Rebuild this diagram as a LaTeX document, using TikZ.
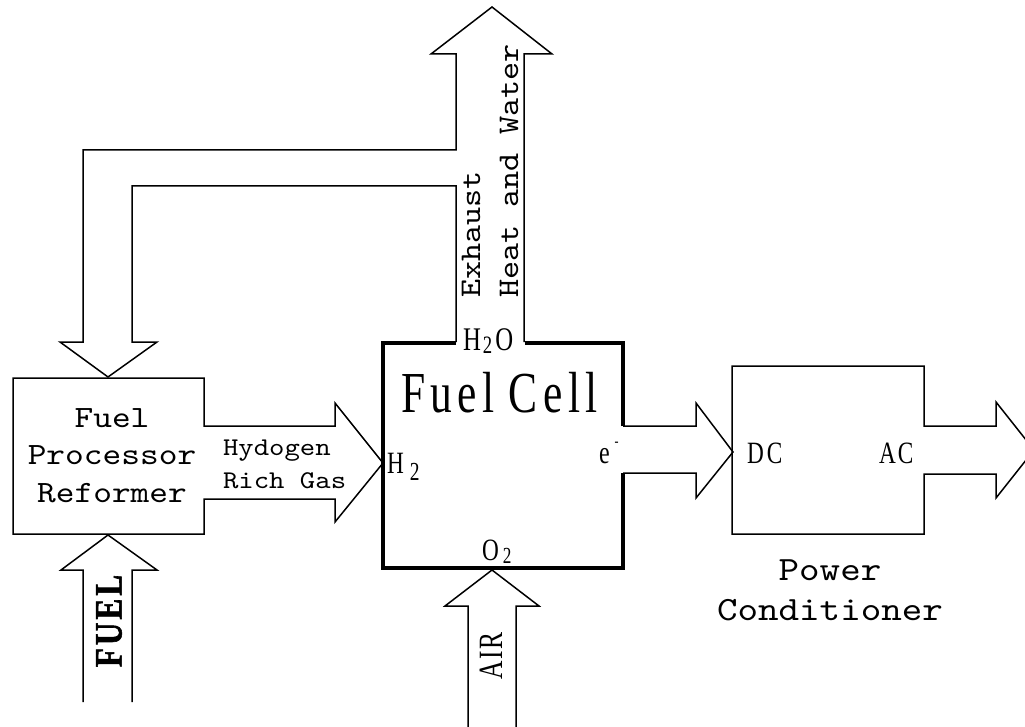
\documentclass[tikz,border=0pt]{standalone}
\usepackage{fontspec}
\setmainfont{Liberation Serif}
\newfontfamily\cser[FakeStretch=0.75]{Liberation Serif}
\newfontfamily\cserb[FakeStretch=0.8,FakeBold=1.5]{Liberation Serif Bold}
\newfontfamily\mono[FakeStretch=1.15]{lmmono10-regular.otf}
\begin{document}
\begin{tikzpicture}[x=1pt,y=-1pt,
  blockarrow/.style={draw=black, line width=1.5pt, line join=miter},
  cellwall/.style={draw=black, line width=3.2pt},
  lbl/.style={inner sep=0pt, outer sep=0pt},
  monolbl/.style={lbl, font=\mono\fontsize{#1}{#1}\selectfont},
  serlbl/.style={lbl, font=\cser\fontsize{#1}{#1}\selectfont}]
\useasboundingbox (0,0) rectangle (1025,727);
\clip (0,0) rectangle (1025,727);
% exhaust arrow with feedback branch
\draw[blockarrow] (524,342) -- (524,54) -- (552,54) -- (492,7) -- (431,54) -- (456,54)
  -- (456,150) -- (83,150) -- (83,342) -- (60,342) -- (108,377) -- (157,342) -- (132,342)
  -- (132,186) -- (456,186) -- (456,342);
% fuel cell walls
\draw[cellwall] (456,343) -- (383,343) -- (383,568) -- (623,568) -- (623,473);
\draw[cellwall] (623,426) -- (623,343) -- (525,343);
% fuel processor with hydrogen arrow
\draw[blockarrow] (204,426) -- (335,426) -- (335,403) -- (383,463) -- (335,522) -- (335,499)
  -- (204,499) -- (204,534) -- (13,534) -- (13,378) -- (204,378) -- cycle;
% electron arrow
\draw[blockarrow] (623,426) -- (696,426) -- (696,403) -- (733,452) -- (696,498) -- (696,473) -- (623,473);
% power conditioner with AC arrow
\draw[blockarrow] (924,426) -- (996,426) -- (996,402) -- (1034,450) -- (996,498) -- (996,474)
  -- (924,474) -- (924,534) -- (732,534) -- (732,366) -- (924,366) -- cycle;
% fuel input arrow
\draw[blockarrow] (83,702) -- (83,570) -- (61,570) -- (108,535) -- (157,570) -- (132,570) -- (132,702);
% air input arrow
\draw[blockarrow] (468,732) -- (468,606) -- (445,606) -- (492,570) -- (539,606) -- (516,606) -- (516,732);
% mono labels
\node[monolbl=31, anchor=base] (fp1) at (112,427) {Fuel};
\node[monolbl=31, anchor=base] (fp2) at (112,464) {Processor};
\node[monolbl=31, anchor=base] (fp3) at (112,502) {Reformer};
\node[monolbl=25.5, anchor=base west] (hg1) at (223,455) {Hydogen};
\node[monolbl=25.5, anchor=base west] (hg2) at (223,488) {Rich Gas};
\node[monolbl=30, anchor=base west, rotate=90] (ex1) at (480,298) {Exhaust};
\node[monolbl=30, anchor=base west, rotate=90] (ex2) at (518,298) {Heat and Water};
\node[monolbl=34, anchor=base] (pc1) at (830,580) {Power};
\node[monolbl=34, anchor=base] (pc2) at (830,620) {Conditioner};
% serif labels
\node[serlbl=58, anchor=base west] (fc) at (401,412)
  {F\kern5.5pt u\kern5.5pt e\kern5.5pt l\kern3pt\ C\kern5.5pt e\kern5.5pt l\kern5.5pt l};
\node[serlbl=33, anchor=base west] (h2o) at (463,350)
  {H\kern2pt\raisebox{-3pt}{\fontsize{25}{25}\selectfont 2}\kern3pt O};
\node[serlbl=31, anchor=base west] (h2) at (387,473)
  {H\kern6pt\raisebox{-7pt}{\fontsize{26}{26}\selectfont 2}};
\node[serlbl=32, anchor=base west] (el) at (599,463)
  {e\kern5pt\raisebox{17pt}{\fontsize{16}{16}\selectfont -}};
\node[serlbl=31, anchor=base west] (o2) at (482,560)
  {O\kern4pt\raisebox{-3pt}{\fontsize{23}{23}\selectfont 2}};
\node[serlbl=31, anchor=base west] (dc) at (747,463) {D\kern3pt C};
\node[serlbl=31, anchor=base west] (ac) at (879,463) {A\kern2pt C};
\node[serlbl=34, rotate=90] (air) at (491,656) {A\kern2pt I\kern2pt R};
\node[lbl, font=\cserb\fontsize{39}{39}\selectfont, rotate=90] (fuel) at (109,621)
  {F\kern3pt U\kern3pt E\kern3pt L};
\end{tikzpicture}
\end{document}
